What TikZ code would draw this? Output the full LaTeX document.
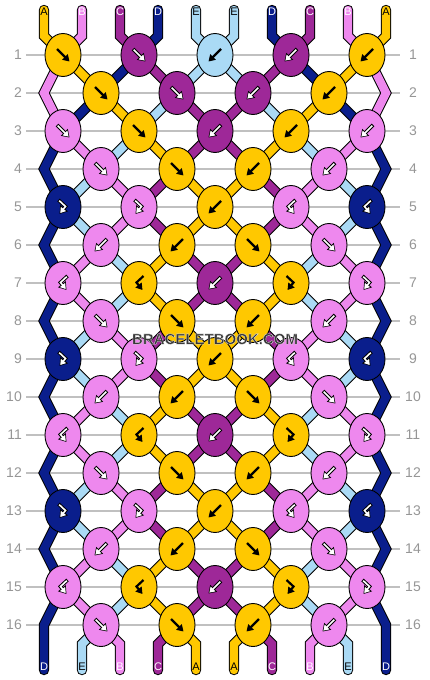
\documentclass[tikz,border=0pt]{standalone}
\usepackage{fontspec}
\setmainfont{Liberation Sans}
\usetikzlibrary{shapes.geometric,arrows.meta}
\definecolor{colA}{RGB}{255,200,0}
\definecolor{colB}{RGB}{238,136,238}
\definecolor{colC}{RGB}{158,40,152}
\definecolor{colD}{RGB}{10,30,140}
\definecolor{colE}{RGB}{170,218,245}
\definecolor{gridgrey}{RGB}{192,192,192}
\definecolor{numgrey}{RGB}{150,150,150}
\definecolor{wmgrey}{RGB}{56,56,56}
\pgfdeclarelayer{gridlayer}
\pgfdeclarelayer{threadlayer}
\pgfsetlayers{gridlayer,threadlayer,main}
\tikzset{
  link/.style={line width=8.4pt, line cap=butt, preaction={draw=black, line width=10.4pt}},
  strand/.style={line width=8.4pt, line cap=round, line join=miter, preaction={draw=black, line width=10.4pt, line cap=round, line join=miter}},
  knot/.style={ellipse, draw=black, line width=0.9pt, minimum width=36pt, minimum height=43pt, inner sep=0pt},
  wo/.style={draw=black, line width=3.6pt, line join=miter, -{Triangle[length=7.4pt,width=9.4pt]}},
  wi/.style={draw=white, line width=1.6pt, line join=miter, shorten >=1.2pt, shorten <=1pt, -{Triangle[length=5.2pt,width=6.4pt]}},
  bi/.style={draw=black, line width=2.2pt, line join=miter, -{Triangle[length=6.4pt,width=7.6pt]}},
  ao A/.style={draw=none}, ai A/.style={bi},
  ao E/.style={draw=none}, ai E/.style={bi},
  ao B/.style={wo}, ai B/.style={wi},
  ao C/.style={wo}, ai C/.style={wi},
  ao D/.style={wo}, ai D/.style={wi},
  lt A/.style={text=black}, lt E/.style={text=black},
  lt B/.style={text=white}, lt C/.style={text=white}, lt D/.style={text=white},
  lab/.style={font=\fontsize{11}{11}\selectfont, inner sep=0pt},
  num/.style={font=\fontsize{14}{14}\selectfont, text=numgrey, inner sep=0pt},
  gridline/.style={draw=gridgrey, line width=1.4pt},
  wm/.style={font=\fontsize{15}{15}\selectfont\bfseries, inner sep=0pt},
  pics/arrf/.style={code={\draw[ao #1] (-6,-6) -- (6.5,6.5); \draw[ai #1] (-6,-6) -- (6.5,6.5);}},
  pics/arrb/.style={code={\draw[ao #1] (6,-6) -- (-6.5,6.5); \draw[ai #1] (6,-6) -- (-6.5,6.5);}},
  pics/arrfb/.style={code={\draw[ao #1] (-4.5,-7) -- (2.5,-0.5) -- (-3.5,7); \draw[ai #1] (-4.5,-7) -- (2.5,-0.5) -- (-3.5,7);}},
  pics/arrbf/.style={code={\draw[ao #1] (4.5,-7) -- (-2.5,-0.5) -- (3.5,7); \draw[ai #1] (4.5,-7) -- (-2.5,-0.5) -- (3.5,7);}},
}
\begin{document}
\begin{tikzpicture}[x=1pt,y=-1pt]
\useasboundingbox (0,0) rectangle (430,680);
% grid lines and row numbers
\begin{pgfonlayer}{gridlayer}
\foreach \r in {1,...,16}{
  \pgfmathsetmacro\y{55+38*(\r-1)}
  \coordinate (gl-\r) at (26,\y);
  \coordinate (gr-\r) at (400,\y);
  \draw[gridline] (gl-\r) -- (gr-\r);
}
\end{pgfonlayer}
\foreach \r in {1,...,16}{
  \pgfmathsetmacro\y{55+38*(\r-1)}
  \node[num, anchor=east] (nl-\r) at (22,\y) {\r};
  \node[num] (nr-\r) at (413,\y) {\r};
}
% knots
\foreach \r/\lst in {
  1/{A/f,C/f,E/b,C/b,A/b},
  2/{A/f,C/f,C/b,A/b},
  3/{B/f,A/f,C/b,A/b,B/b},
  4/{B/f,A/f,A/b,B/b},
  5/{D/fb,B/fb,A/b,B/bf,D/bf},
  6/{B/b,A/b,A/f,B/f},
  7/{B/bf,A/bf,C/b,A/fb,B/fb},
  8/{B/f,A/f,A/b,B/b},
  9/{D/fb,B/fb,A/b,B/bf,D/bf},
  10/{B/b,A/b,A/f,B/f},
  11/{B/bf,A/bf,C/b,A/fb,B/fb},
  12/{B/f,A/f,A/b,B/b},
  13/{D/fb,B/fb,A/b,B/bf,D/bf},
  14/{B/b,A/b,A/f,B/f},
  15/{B/bf,A/bf,C/b,A/fb,B/fb},
  16/{B/f,A/f,A/b,B/b}}{
  \foreach \c/\t [count=\j] in \lst {
    \ifodd\r \def\xo{63}\else \def\xo{101}\fi
    \pgfmathsetmacro\x{\xo+76*(\j-1)}
    \pgfmathsetmacro\y{55+38*(\r-1)}
    \node[knot, fill=col\c] (k-\r-\j) at (\x,\y) {};
    \pic at (k-\r-\j.center) {arr\t=\c};
  }
}
% edge vertices
\foreach \r in {2,4,...,16}{
  \pgfmathsetmacro\y{55+38*(\r-1)}
  \coordinate (L-\r) at (44,\y);
  \coordinate (R-\r) at (386,\y);
}
\begin{pgfonlayer}{threadlayer}
% links between knots
\foreach \r/\st in {
  1/{B,A,D,C,E,E,C,D,A,B},
  2/{B,D,A,E,C,C,E,A,D,B},
  3/{D,B,E,A,C,C,A,E,B,D},
  4/{D,E,B,C,A,A,C,B,E,D},
  5/{D,E,B,C,A,A,C,B,E,D},
  6/{D,B,E,A,C,C,A,E,B,D},
  7/{D,B,E,A,C,C,A,E,B,D},
  8/{D,E,B,C,A,A,C,B,E,D},
  9/{D,E,B,C,A,A,C,B,E,D},
  10/{D,B,E,A,C,C,A,E,B,D},
  11/{D,B,E,A,C,C,A,E,B,D},
  12/{D,E,B,C,A,A,C,B,E,D},
  13/{D,E,B,C,A,A,C,B,E,D},
  14/{D,B,E,A,C,C,A,E,B,D},
  15/{D,B,E,A,C,C,A,E,B,D}}{
  \foreach \c [count=\p] in \st {
    \ifnum\p>1 \ifnum\p<10
      \pgfmathtruncatemacro\jo{(\p+1)/2}
      \pgfmathtruncatemacro\je{\p/2}
      \pgfmathtruncatemacro\rn{\r+1}
      \ifodd\r \def\src{k-\r-\jo}\def\dst{k-\rn-\je}\else \def\src{k-\r-\je}\def\dst{k-\rn-\jo}\fi
      \draw[link, draw=col\c] (\src.center) -- (\dst.center);
    \fi\fi
  }
}
% top strands
\foreach \c [count=\p] in {A,B,C,D,E,E,D,C,B,A}{
  \pgfmathsetmacro\x{44+38*(\p-1)}
  \pgfmathtruncatemacro\jo{(\p+1)/2}
  \coordinate (t-\p) at (\x,10);
  \coordinate (tb-\p) at (\x,36);
  \draw[strand, draw=col\c] (t-\p) -- (tb-\p) -- (k-1-\jo.center);
}
% bottom strands
\foreach \c [count=\p] in {D,E,B,C,A,A,C,B,E,D}{
  \pgfmathsetmacro\x{44+38*(\p-1)}
  \pgfmathtruncatemacro\je{\p/2}
  \coordinate (be-\p) at (\x,670);
  \coordinate (bb-\p) at (\x,644);
  \ifnum\p>1 \ifnum\p<10
    \draw[strand, draw=col\c] (k-16-\je.center) -- (bb-\p) -- (be-\p);
  \fi\fi
}
% edge threads
\foreach \r/\c in {2/B,4/D,6/D,8/D,10/D,12/D,14/D}{
  \pgfmathtruncatemacro\rp{\r-1}
  \pgfmathtruncatemacro\rn{\r+1}
  \draw[strand, draw=col\c] (k-\rp-1.center) -- (L-\r) -- (k-\rn-1.center);
  \draw[strand, draw=col\c] (k-\rp-5.center) -- (R-\r) -- (k-\rn-5.center);
}
\draw[strand, draw=colD] (k-15-1.center) -- (L-16) -- (be-1);
\draw[strand, draw=colD] (k-15-5.center) -- (R-16) -- (be-10);
\end{pgfonlayer}
% labels
\foreach \c [count=\p] in {A,B,C,D,E,E,D,C,B,A}{
  \pgfmathsetmacro\x{44+38*(\p-1)}
  \node[lab, lt \c] (tl-\p) at (\x,12) {\c};
}
\foreach \c [count=\p] in {D,E,B,C,A,A,C,B,E,D}{
  \pgfmathsetmacro\x{44+38*(\p-1)}
  \node[lab, lt \c] (bl-\p) at (\x,667) {\c};
}
% watermark: one text, filled grey with a thin light outline
\node[wm, text=wmgrey] (wm) at (215,339) {\special{pdf:literal direct 2 Tr 0.92 0.92 0.92 RG 0.3 w}BRACELETBOOK.COM\special{pdf:literal direct 0 Tr}};
\end{tikzpicture}
\end{document}
